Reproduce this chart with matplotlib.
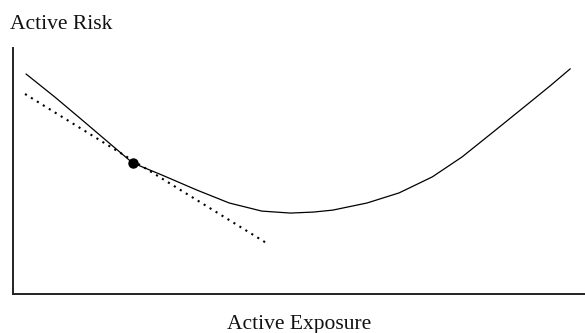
import matplotlib
matplotlib.use("Agg")
import matplotlib.pyplot as plt

# Active risk as a function of active exposure (arbitrary units)
exposure = [2.3, 7.3, 12.1, 16.6, 20.9, 26.0, 32.1, 37.8, 43.5, 48.5, 52.5, 55.9,
            61.9, 67.5, 73.3, 78.5, 84.4, 90.2, 93.9, 97.4]
risk = [89.4, 80.1, 70.7, 61.8, 53.3, 48.4, 42.3, 37.0, 33.7, 32.9, 33.3, 34.1,
        37.0, 41.1, 47.6, 55.7, 66.7, 77.6, 84.6, 91.5]

# Tangent line at the marked point
tangent_x = [2.1, 44.6]
tangent_y = [81.3, 20.3]
point_x = [20.9]
point_y = [53.3]

W, H = 585, 333
fig = plt.figure(figsize=(W / 100, H / 100), dpi=100)
ax = fig.add_axes([13 / W, (H - 294) / H, (W - 13) / W, (294 - 48) / H])

ax.plot(exposure, risk, color="black", linewidth=0.9,
        solid_joinstyle="round", antialiased=True)
ax.plot(tangent_x, tangent_y, color="black", linewidth=1.5,
        linestyle=(0, (1, 2.36)))
ax.plot(point_x, point_y, "o", color="black", markersize=6.5)

ax.set_xlim(0, 100)
ax.set_ylim(0, 100)
ax.set_xticks([])
ax.set_yticks([])
for side in ("top", "right"):
    ax.spines[side].set_visible(False)
for side in ("left", "bottom"):
    ax.spines[side].set_linewidth(1.4)
    ax.spines[side].set_color("#222222")

font = dict(family="Liberation Serif", size=15.5, color="#111111")
fig.text(10 / W, 1 - 29 / H, "Active Risk", ha="left", va="baseline", **font)
fig.text(299 / W, 1 - 329 / H, "Active Exposure", ha="center", va="baseline", **font)

fig.savefig("out.png", dpi=100)
